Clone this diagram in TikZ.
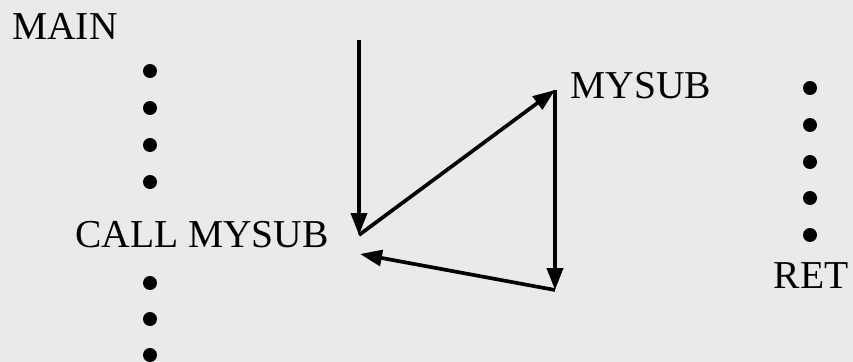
\documentclass[tikz,border=0pt]{standalone}
\usepackage{fontspec}
\setmainfont{Liberation Serif}
\usepackage{tikz}
\usetikzlibrary{arrows.meta}
\definecolor{paper}{RGB}{234,234,232}

\begin{document}
\begin{tikzpicture} [x = 0.02cm, y = -0.02cm,
    lbl/.style = {inner sep = 0pt, font = \fontsize{22.5}{27}\selectfont},
    dot/.style = {circle, fill, inner sep = 0pt, minimum size = 0.28cm},
    flow/.style = {line width = 2.1pt, -{Triangle[length = 0.44cm, width = 0.32cm]}}]
                \fill [paper] (0,0) rectangle (853,362);
                \useasboundingbox (0,0) rectangle (853,362);
                \node [lbl] (main) at (65,26) {MAIN};
                \node [lbl] (call) at (202,235) {CALL MYSUB};
                \node [lbl] (mysub) at (641,86) {MYSUB};
                \node [lbl] (ret) at (811,276) {RET};
                \foreach \y [count = \i] in {71, 108, 145, 182, 283, 319, 355}
                  \node [dot] (l\i) at (150,\y) {};
                \foreach \y [count = \i] in {88, 125, 162, 198, 235}
                  \node [dot] (r\i) at (810,\y) {};
                \coordinate (enter) at (359,40);
                \coordinate (jump) at (359,235);
                \coordinate (top) at (555,90);
                \coordinate (bottom) at (555,290);
                \coordinate (back) at (360,254);
                \draw [flow] (enter) -- (jump);
                \draw [flow] (jump) -- (top);
                \draw [flow] (top) -- (bottom);
                \draw [flow] (bottom) -- (back);
            \end{tikzpicture}
\end{document}
